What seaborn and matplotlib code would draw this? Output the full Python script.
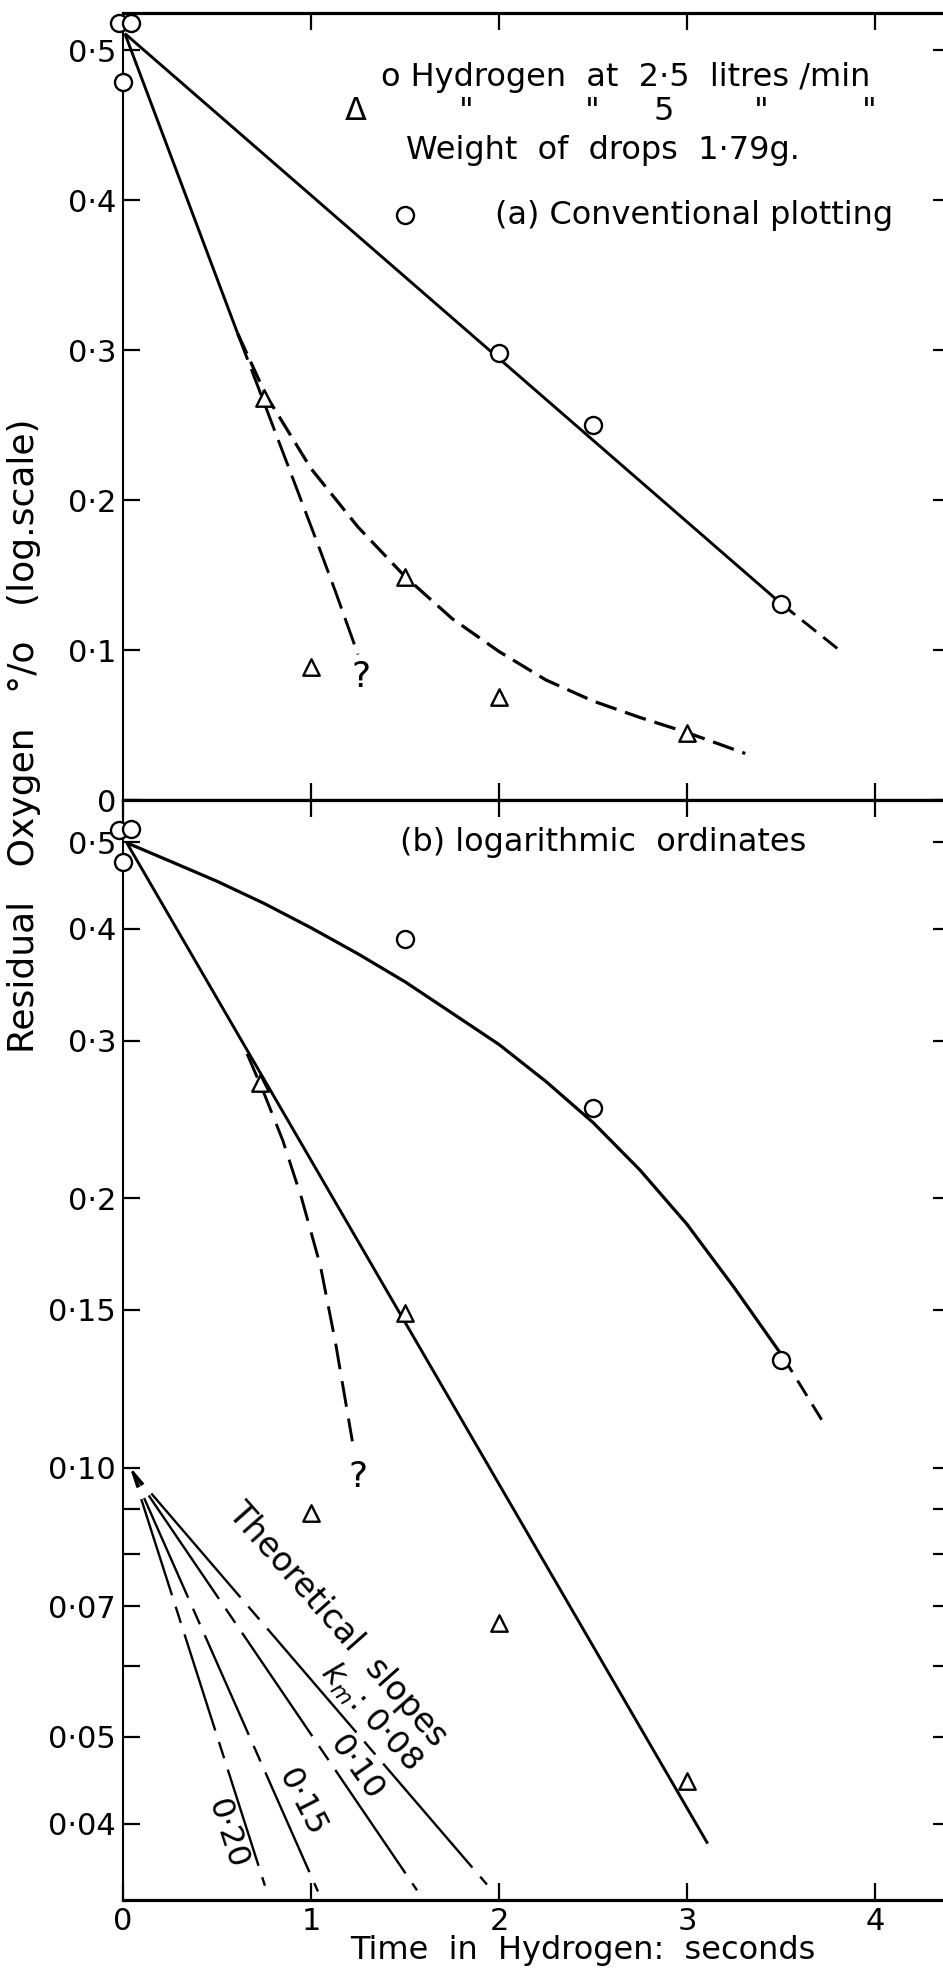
import matplotlib
matplotlib.use("Agg")
import matplotlib.pyplot as plt
import seaborn as sns
from matplotlib.ticker import FixedLocator, FixedFormatter, NullFormatter

# ---------------- data ----------------
# Hydrogen at 2.5 litres/min (open circles)
circle_time_a = [-0.02, 0.04, 0.0, 1.5, 2.0, 2.5, 3.5]
circle_o2_a = [0.518, 0.518, 0.479, 0.39, 0.298, 0.25, 0.131]
circle_time_b = [-0.02, 0.04, 0.0, 1.5, 2.5, 3.5]
circle_o2_b = [0.516, 0.517, 0.475, 0.39, 0.252, 0.132]

# Hydrogen at 5 litres/min (triangles)
tri_time_a = [0.75, 1.0, 1.5, 2.0, 3.0]
tri_o2_a = [0.268, 0.089, 0.149, 0.069, 0.045]
tri_time_b = [0.73, 1.0, 1.5, 2.0, 3.0]
tri_o2_b = [0.269, 0.089, 0.149, 0.067, 0.0446]

# hand-drawn curves, panel (a): conventional plotting
slow_fit_a_t = [0.01, 3.5]
slow_fit_a_o2 = [0.511, 0.131]
slow_ext_a_t = [3.5, 3.83]
slow_ext_a_o2 = [0.131, 0.098]
fast_fit_a_t = [0.01, 0.61]
fast_fit_a_o2 = [0.511, 0.311]
fast_lin_a_t = [0.61, 0.75, 0.85, 0.95, 1.05, 1.13, 1.25]
fast_lin_a_o2 = [0.311, 0.265, 0.232, 0.199, 0.166, 0.139, 0.097]
fast_exp_a_t = [0.61, 0.76, 1.0, 1.25, 1.5, 1.75, 2.0, 2.25, 2.5, 2.75, 3.0, 3.31]
fast_exp_a_o2 = [0.311, 0.27, 0.221, 0.182, 0.149, 0.121, 0.099, 0.08, 0.066, 0.055, 0.045, 0.031]

# hand-drawn curves, panel (b): logarithmic ordinates
slow_fit_b_t = [0.02, 0.25, 0.5, 0.75, 1.0, 1.25, 1.5, 1.75, 2.0, 2.25, 2.5, 2.75, 3.0, 3.25, 3.51]
slow_fit_b_o2 = [0.499, 0.476, 0.452, 0.427, 0.401, 0.375, 0.349, 0.322, 0.297,
                 0.270, 0.243, 0.215, 0.187, 0.159, 0.133]
slow_ext_b_t = [3.51, 3.74]
slow_ext_b_o2 = [0.133, 0.111]
fast_fit_b_t = [0.02, 3.11]
fast_fit_b_o2 = [0.499, 0.038]
fast_lin_b_t = [0.66, 0.75, 0.85, 0.95, 1.05, 1.13, 1.22]
fast_lin_b_o2 = [0.29, 0.262, 0.232, 0.200, 0.168, 0.138, 0.107]

# theoretical slopes fanning out from 0.10 %
km_labels = ["$k_m$: 0·08", "0·10", "0·15", "0·20"]
slope_start_t = 0.05
slope_start_o2 = 0.099
slope_end_t = [1.936, 1.564, 1.037, 0.755]
slope_end_o2 = [0.0342, 0.0337, 0.0336, 0.0341]

# axis ticks
x_ticks = [0, 1, 2, 3, 4]
x_ticklabels = ["0", "1", "2", "3", "4"]
a_yticks = [0, 0.1, 0.2, 0.3, 0.4, 0.5]
a_yticklabels = ["0", "0·1", "0·2", "0·3", "0·4", "0·5"]
b_yticks = [0.04, 0.05, 0.07, 0.10, 0.15, 0.2, 0.3, 0.4, 0.5]
b_yticklabels = ["0·04", "0·05", "0·07", "0·10", "0·15", "0·2", "0·3", "0·4", "0·5"]
b_yminor = [0.06, 0.08, 0.09]

# ---------------- style ----------------
sns.set_theme(style="white")
plt.rcParams["font.family"] = ["DejaVu Sans"]
plt.rcParams["mathtext.fontset"] = "dejavusans"
plt.rcParams["lines.scale_dashes"] = False
PT = 0.72  # points per pixel at 100 dpi
INK = "black"
LW = 2.1

W, H = 943, 1968
fig = plt.figure(figsize=(W / 100, H / 100), dpi=100)
fig.patch.set_facecolor("white")

left = 123 / W
ax_a = fig.add_axes([left, 1 - 800 / H, 1 - left, (800 - 13) / H])
ax_b = fig.add_axes([left, 1 - 1900 / H, 1 - left, (1900 - 800) / H])

x_max = (W - 123) / 188.0
for ax in (ax_a, ax_b):
    ax.set_facecolor("white")
    ax.set_xlim(0, x_max)
    ax.spines["right"].set_visible(False)
    for side in ("top", "bottom"):
        ax.spines[side].set_linewidth(2.3)
        ax.spines[side].set_color(INK)
    ax.spines["left"].set_linewidth(1.5)
    ax.spines["left"].set_color(INK)
    ax.tick_params(axis="both", which="both", direction="in", length=12, width=1.6,
                   color=INK, labelcolor=INK, labelsize=22, pad=5,
                   top=True, bottom=True, left=True, right=True,
                   labelright=False, labeltop=False)

# panel (a) axes
ax_a.set_ylim(0, 0.5247)
ax_a.xaxis.set_major_locator(FixedLocator([1, 2, 3, 4]))
ax_a.tick_params(axis="x", labelbottom=False)
ax_a.yaxis.set_major_locator(FixedLocator(a_yticks))
ax_a.yaxis.set_major_formatter(FixedFormatter(a_yticklabels))

# panel (b) axes
ax_b.set_yscale("log")
ax_b.set_ylim(0.03287, 0.5571)
ax_b.xaxis.set_major_locator(FixedLocator(x_ticks))
ax_b.xaxis.set_major_formatter(FixedFormatter(x_ticklabels))
ax_b.yaxis.set_major_locator(FixedLocator(b_yticks))
ax_b.yaxis.set_major_formatter(FixedFormatter(b_yticklabels))
ax_b.yaxis.set_minor_locator(FixedLocator(b_yminor))
ax_b.yaxis.set_minor_formatter(NullFormatter())
ax_b.xaxis.set_minor_locator(FixedLocator([]))

# shorter ticks on the right-hand edge
for ax in (ax_a, ax_b):
    for tk in ax.yaxis.get_major_ticks() + ax.yaxis.get_minor_ticks():
        tk.tick2line.set_markersize(7)


def curve(ax, t, v, dashes=None, lw=LW):
    kw = dict(x=t, y=v, ax=ax, sort=False, estimator=None, color=INK, lw=lw,
              solid_capstyle="butt", dash_capstyle="butt",
              solid_joinstyle="round", zorder=2)
    if dashes is not None:
        kw["linestyle"] = (0, tuple(d * PT for d in dashes))
    sns.lineplot(**kw)


def points(ax, t, v, marker, size):
    sns.scatterplot(x=t, y=v, ax=ax, marker=marker, s=size, facecolor="white",
                    edgecolor=INK, linewidth=1.7, clip_on=False, zorder=4)


# ---------------- panel (a) ----------------
curve(ax_a, slow_fit_a_t, slow_fit_a_o2)
curve(ax_a, slow_ext_a_t, slow_ext_a_o2, dashes=(18, 9))
curve(ax_a, fast_fit_a_t, fast_fit_a_o2)
curve(ax_a, fast_lin_a_t, fast_lin_a_o2, dashes=(28, 10))
curve(ax_a, fast_exp_a_t, fast_exp_a_o2, dashes=(22, 9), lw=2.3)
points(ax_a, circle_time_a, circle_o2_a, "o", 150)
points(ax_a, tri_time_a, tri_o2_a, "^", 140)
ax_a.text(1.266, 0.082, "?", fontsize=26, ha="center", va="center", color=INK)

legend_kw = dict(fontsize=23, color=INK, va="center")
ax_a.text(2.673, 0.482, "o Hydrogen  at  2·5  litres /min", ha="center", **legend_kw)
for xt, s in zip([1.239, 1.824, 2.495, 2.878, 3.394, 3.968],
                 ["Δ", '"', '"', "5", '"', '"']):
    ax_a.text(xt, 0.4587, s, ha="center", **legend_kw)
ax_a.text(2.553, 0.4333, "Weight  of  drops  1·79g.", ha="center", **legend_kw)
ax_a.text(3.037, 0.39, "(a) Conventional plotting", ha="center", **legend_kw)

# ---------------- panel (b) ----------------
curve(ax_b, slow_fit_b_t, slow_fit_b_o2, lw=2.3)
curve(ax_b, slow_ext_b_t, slow_ext_b_o2, dashes=(18, 10))
curve(ax_b, fast_fit_b_t, fast_fit_b_o2)
curve(ax_b, fast_lin_b_t, fast_lin_b_o2, dashes=(26, 12))
points(ax_b, circle_time_b, circle_o2_b, "o", 150)
points(ax_b, tri_time_b, tri_o2_b, "^", 140)
ax_b.text(1.25, 0.0976, "?", fontsize=26, ha="center", va="center", color=INK)
ax_b.text(2.553, 0.50, "(b) logarithmic  ordinates", ha="center", **legend_kw)

# theoretical slope lines: short dash, long dash pattern
slope_long_px = [137, 125, 109, 101]
for t_end, v_end, long_px in zip(slope_end_t, slope_end_o2, slope_long_px):
    curve(ax_b, [slope_start_t, t_end], [slope_start_o2, v_end],
          dashes=(17, 12, long_px, 12), lw=1.7)

label_pos_t = [1.318, 1.243, 0.951, 0.552]
label_pos_o2 = [0.0527, 0.0461, 0.0422, 0.0389]
label_rot = [-48, -55, -63, -72]
for s, xt, yt, r in zip(km_labels, label_pos_t, label_pos_o2, label_rot):
    ax_b.text(xt, yt, s, fontsize=23, rotation=r, rotation_mode="anchor",
              ha="center", va="center", color=INK)
ax_b.text(1.138, 0.0667, "Theoretical  slopes", fontsize=24, rotation=-48.5,
          rotation_mode="anchor", ha="center", va="center", color=INK)

for ax in (ax_a, ax_b):
    ax.set_xlabel("")
    ax.set_ylabel("")

# ---------------- axis titles ----------------
fig.text(24 / W, 1 - 736 / H, "Residual   Oxygen   °/o   (log.scale)", rotation=90,
         fontsize=26, ha="center", va="center", color=INK)
fig.text(583 / W, 1 - 1950 / H, "Time  in  Hydrogen:  seconds",
         fontsize=23, ha="center", va="center", color=INK)

fig.savefig("out.png", dpi=100, facecolor="white")
